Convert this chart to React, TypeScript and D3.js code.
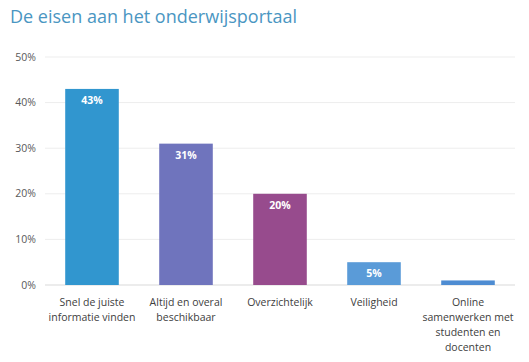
import React from 'react';
import * as d3 from 'd3';

const categories = [
    ['Snel de juiste', 'informatie vinden'],
    ['Altijd en overal', 'beschikbaar'],
    ['Overzichtelijk'],
    ['Veiligheid'],
    ['Online', 'samenwerken met', 'studenten en', 'docenten'],
];
const values = [43, 31, 20, 5, 1];
const valueLabels = ['43%', '31%', '20%', '5%', ''];
const barColors = ['#3196CF', '#6F74BD', '#974B8D', '#5A9BD8', '#4E8CD2'];
const yTicks = [0, 10, 20, 30, 40, 50];

const width = 529;
const height = 362;
const margin = { top: 57, right: 14, bottom: 77, left: 45 };
const font = '"Open Sans", "Noto Sans", sans-serif';

export default function App() {
    const w = width - margin.left - margin.right;
    const h = height - margin.top - margin.bottom;

    const x = d3.scaleBand<number>()
        .domain(d3.range(values.length))
        .range([0, w])
        .paddingInner(0.43)
        .paddingOuter(0.215);

    const y = d3.scaleLinear()
        .domain([0, 50])
        .range([h, 0]);

    return (
        <svg width={width} height={height}
            style={{ position: 'absolute', left: 0, top: 0, background: '#fff' }}
            fontFamily={font}>
            <text x={10} y={23} fontSize={18} fill="#4A96C2">De eisen aan het onderwijsportaal</text>
            <g transform={`translate(${margin.left},${margin.top})`}>
                {yTicks.map(t => (
                    <g key={t}>
                        <line x1={0} x2={w} y1={y(t)} y2={y(t)}
                            stroke={t === 0 ? '#D9D9D9' : '#EDEDED'} strokeWidth={1} />
                        <text x={-9} y={y(t)} dy="0.35em" textAnchor="end"
                            fontSize={10.5} fill="#595959">{t}%</text>
                    </g>
                ))}
                {values.map((v, i) => (
                    <g key={i}>
                        <rect x={x(i)} y={y(v)} width={x.bandwidth()} height={h - y(v)}
                            fill={barColors[i]} />
                        {valueLabels[i] && (
                            <text x={(x(i) as number) + x.bandwidth() / 2} y={y(v) + 15}
                                textAnchor="middle" fontSize={10.5} fontWeight="bold"
                                fill="#fff">{valueLabels[i]}</text>
                        )}
                        {categories[i].map((line, j) => (
                            <text key={j} x={(x(i) as number) + x.bandwidth() / 2}
                                y={h + 21 + j * 15} textAnchor="middle"
                                fontSize={10.5} fill="#404040">{line}</text>
                        ))}
                    </g>
                ))}
            </g>
        </svg>
    );
}
